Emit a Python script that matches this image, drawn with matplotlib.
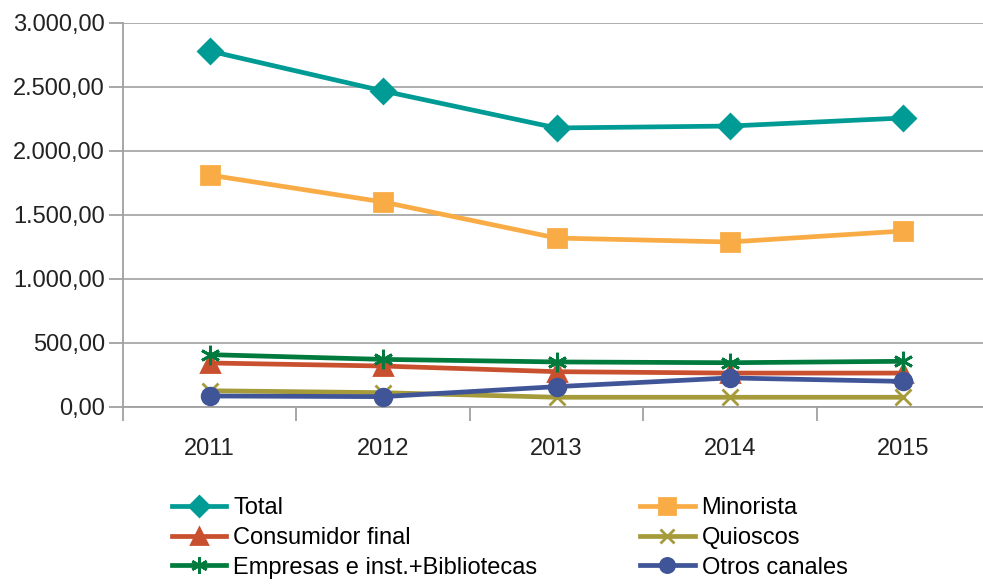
import matplotlib.pyplot as plt
import numpy as np

plt.rcParams['font.family'] = ['Liberation Sans', 'DejaVu Sans']

years = ['2011', '2012', '2013', '2014', '2015']
total = [2781, 2469, 2180, 2195, 2258]
minorista = [1812, 1602, 1320, 1289, 1375]
consumidor = [344, 320, 276, 265, 265]
quioscos = [127, 112, 76, 76, 76]
empresas = [409, 372, 352, 346, 357]
otros = [86, 81, 159, 227, 200]

series = [
    ('Total', total, '#009b95', 'D', 12),
    ('Minorista', minorista, '#f9ac45', 's', 13),
    ('Consumidor final', consumidor, '#c8502e', '^', 13),
    ('Quioscos', quioscos, '#a59b3a', 'x', 12),
    ('Empresas e inst.+Bibliotecas', empresas, '#007a3d', (6, 2, 0), 14),
    ('Otros canales', otros, '#3f5597', 'o', 12),
]


def fmt(v, _):
    s = '{:,.2f}'.format(v)
    return s.replace(',', ' ').replace('.', ',').replace(' ', '.')


fig = plt.figure(figsize=(9.83, 5.85), dpi=100)
ax = fig.add_axes([123 / 983, 178 / 585, 867 / 983, 384 / 585])
x = np.arange(len(years))
handles = []
for name, vals, color, marker, ms in series:
    h, = ax.plot(x, vals, color=color, lw=3.4, marker=marker, ms=ms,
                 mew=2.0, mec=color, mfc=color, label=name, zorder=3)
    handles.append(h)

# order for a two-column legend read row by row
order = [0, 2, 4, 1, 3, 5]
ax.set_ylim(0, 3000)
ax.set_xlim(-0.5, 4.5)
ax.set_yticks(np.arange(0, 3001, 500))
ax.yaxis.set_major_formatter(plt.FuncFormatter(fmt))
ax.set_xticks(x)
ax.set_xticklabels(years)
ax.set_xticks(np.arange(-0.5, 4.6, 1), minor=True)
ax.tick_params(axis='x', which='major', length=0, pad=22, labelsize=17, colors='#222222')
ax.tick_params(axis='x', which='minor', length=10, width=1.3, color='#a0a0a0', direction='out')
ax.tick_params(axis='y', length=10, width=1.3, color='#a0a0a0', labelsize=17,
               labelcolor='#222222', pad=3)
ax.grid(axis='y', color='#a8a8a8', lw=1.3)
ax.set_axisbelow(True)
for s in ['top', 'right']:
    ax.spines[s].set_visible(False)
for s in ['left', 'bottom']:
    ax.spines[s].set_color('#a0a0a0')
    ax.spines[s].set_linewidth(1.3)

fig.legend([handles[i] for i in order], [series[i][0] for i in order],
           ncol=2, loc='upper left', bbox_to_anchor=(172 / 983, 1 - 497 / 585),
           frameon=False, fontsize=17, handlelength=2.3, handletextpad=0.3,
           labelspacing=0.33, columnspacing=4.35, borderaxespad=0, borderpad=0,
           markerscale=0.85)

fig.savefig('out.png', dpi=100)
